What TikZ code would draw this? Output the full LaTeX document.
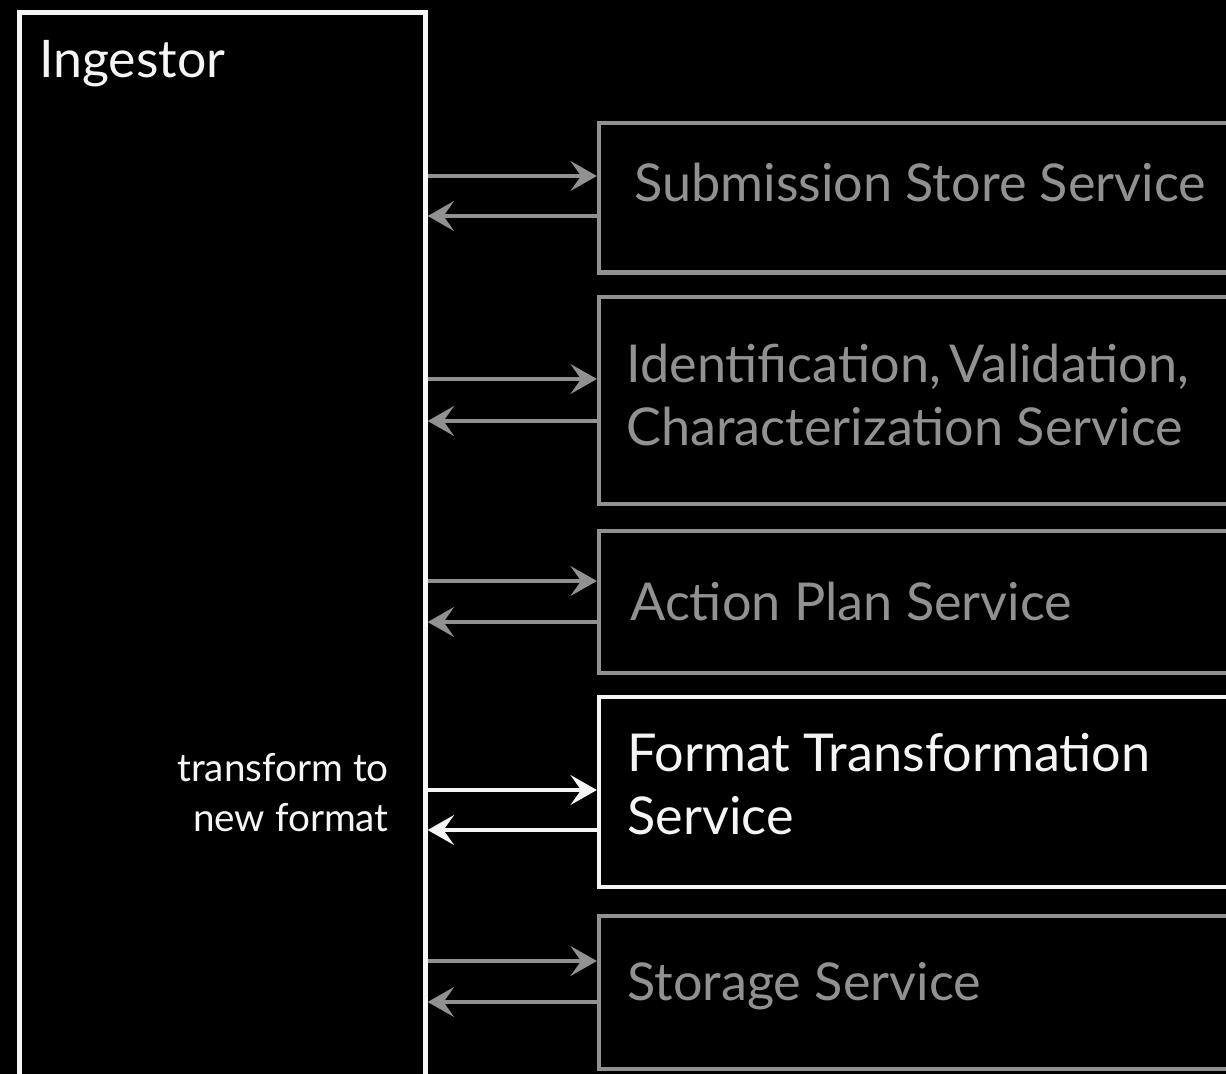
\documentclass[tikz,border=0pt]{standalone}
\usepackage{fontspec}
\setmainfont{Lato}
\usetikzlibrary{arrows.meta}
\definecolor{svcGray}{RGB}{145,145,145}
\definecolor{svcWhite}{RGB}{245,245,245}

\tikzset{
  ingbox/.style={draw=svcWhite, line width=2.5pt, inner sep=0pt},
  svcbox/.style={draw=svcGray, line width=2.5pt, inner sep=0pt, minimum width=13.22cm},
  svclabel/.style={svcGray, font=\fontsize{29.7}{35.7}\selectfont, inner sep=0pt, align=left},
  fwd/.style={svcGray, line width=2.5pt, -{Stealth[length=15pt, width=17pt, inset=6pt]}},
  back/.style={svcGray, line width=2.5pt, {Stealth[length=15pt, width=17pt, inset=6pt]}-}
}

\begin{document}
\begin{tikzpicture}[x=0.02cm, y=-0.02cm]
  \useasboundingbox (0,0) rectangle (1226,1074);
  \fill[black] (0,0) rectangle (1226,1074);
  \clip (0,0) rectangle (1226,1074);

  % Ingestor
  \node[ingbox, minimum width=8.12cm, minimum height=22.15cm] (ing) at (222.5,566.25) {};
  \node[svcWhite, font=\fontsize{29.5}{35}\selectfont, inner sep=0pt, anchor=base west] (inglbl) at (39,78) {Ingestor};

  % Services
  \node[svcbox, minimum height=2.99cm] (sub) at (929.5,197.75) {};
  \node[svclabel, anchor=base west] (sublbl) at (634,202) {Submission Store Service};

  \node[svcbox, minimum height=4.14cm] (ivc) at (929.5,400.5) {};
  \node[svclabel, anchor=base west] (ivclbl) at (626,445) {Identification,\,Validation,\\Characterization Service};

  \node[svcbox, minimum height=2.84cm] (act) at (929.5,602) {};
  \node[svclabel, anchor=base west] (actlbl) at (630,620) {Action Plan Service};

  \node[svcbox, draw=svcWhite, minimum height=3.8cm] (fmt) at (929.5,792) {};
  \node[svclabel, svcWhite, anchor=base west] (fmtlbl) at (627,834) {Format Transformation\\Service};

  \node[svcbox, minimum height=3.06cm] (sto) at (929.5,992.5) {};
  \node[svclabel, anchor=base west] (stolbl) at (627,1000) {Storage Service};

  % Requests and replies
  \draw[fwd] (ing.east |- 0,176) -- (sub.west |- 0,176);
  \draw[back] (ing.east |- 0,216) -- (sub.west |- 0,216);
  \draw[fwd] (ing.east |- 0,379) -- (ivc.west |- 0,379);
  \draw[back] (ing.east |- 0,421) -- (ivc.west |- 0,421);
  \draw[fwd] (ing.east |- 0,581) -- (act.west |- 0,581);
  \draw[back] (ing.east |- 0,622) -- (act.west |- 0,622);
  \draw[fwd, svcWhite] (ing.east |- 0,790) -- (fmt.west |- 0,790);
  \draw[back, svcWhite] (ing.east |- 0,830) -- (fmt.west |- 0,830);
  \draw[fwd] (ing.east |- 0,961) -- (sto.west |- 0,961);
  \draw[back] (ing.east |- 0,1002) -- (sto.west |- 0,1002);

  \node[svcWhite, font=\fontsize{22}{28.3}\selectfont, inner sep=0pt, align=right, anchor=base east] (fmtnote) at (389,831) {transform to\\new format};
\end{tikzpicture}
\end{document}
